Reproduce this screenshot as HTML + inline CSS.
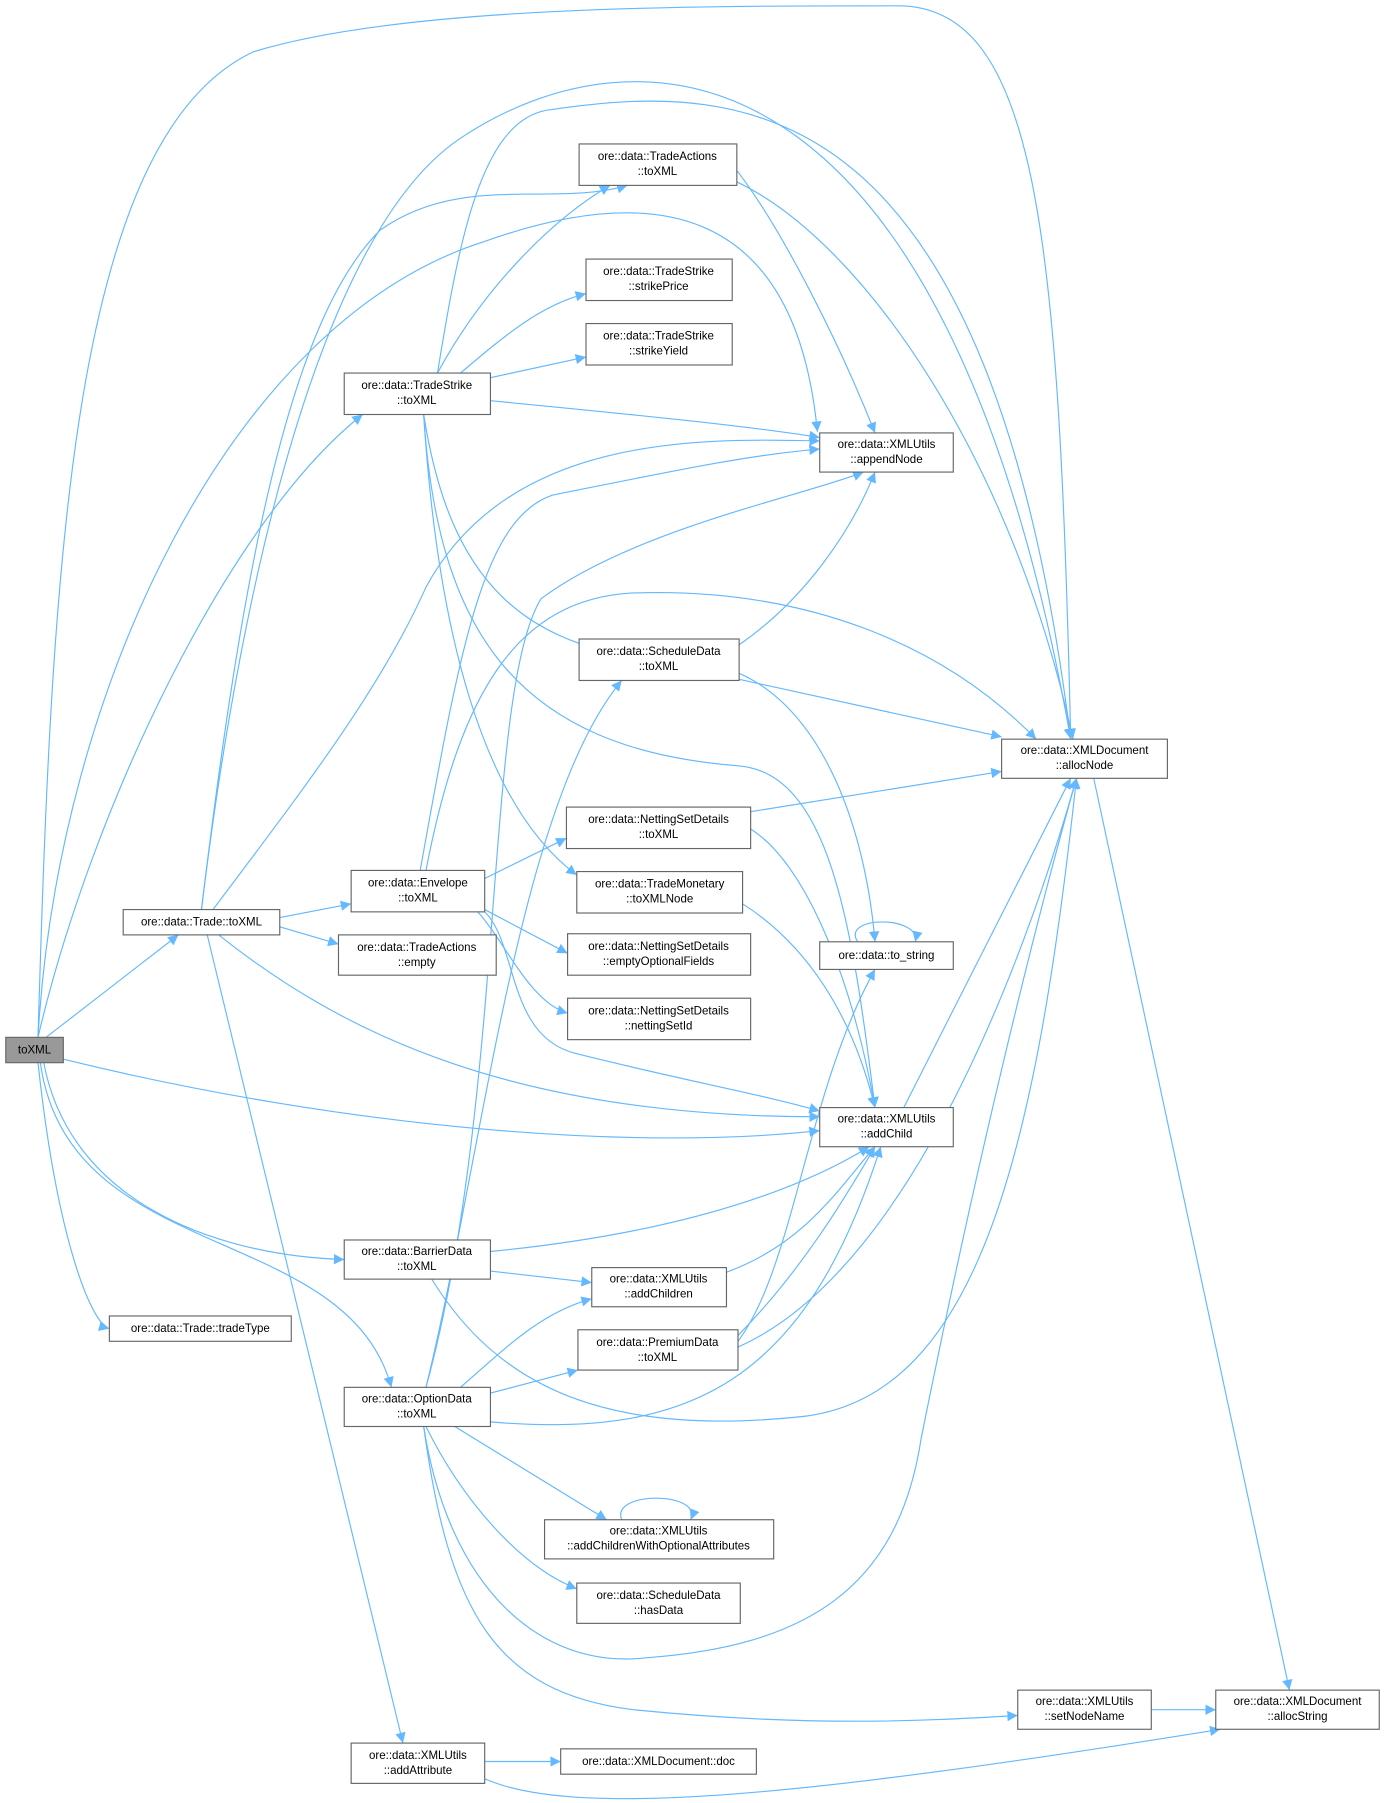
<!DOCTYPE html>
<html><head><meta charset="utf-8"><style>
html,body{margin:0;padding:0;background:#fff;}
svg{display:block;}
text{font-family:"Liberation Sans",sans-serif;font-size:10px;fill:#000;}
.n{fill:#fff;stroke:#666;stroke-width:1;}
.e{fill:none;stroke:#63b8ff;stroke-width:1;}
</style></head><body>
<svg width="1385" height="1803" viewBox="0 0 1203 1566" xmlns="http://www.w3.org/2000/svg">
<defs><marker id="a" viewBox="0 0 10 10" refX="10" refY="5" markerWidth="9" markerHeight="9" markerUnits="userSpaceOnUse" orient="auto"><path d="M0,0 L10,5 L0,10 z" fill="#63b8ff"/></marker></defs>
<g class="e" marker-end="url(#a)">
<path d="M33,901 C45,500 60,120 220,45 C350,5 600,5 780,5 C900,5 920,200 930,642"/>
<path d="M33,901 C50,600 200,280 420,210 C560,160 690,170 710,375"/>
<path d="M33,901 C80,700 200,450 315,360"/>
<path d="M40,901 L155,812"/>
<path d="M55,920 C300,980 550,1000 712,982"/>
<path d="M38,923 C60,1040 180,1090 299,1094"/>
<path d="M35,923 C60,1100 300,1060 340,1205"/>
<path d="M33,923 C50,1080 80,1150 95,1154"/>
<path d="M175,790 C210,500 250,280 330,200 C400,150 480,180 545,161"/>
<path d="M175,790 C210,500 280,200 400,120 C550,20 820,20 930,642"/>
<path d="M185,790 C260,690 330,600 370,510 C440,380 600,380 712,383"/>
<path d="M243,797 L305,785"/>
<path d="M243,805 L294,820"/>
<path d="M190,812 C300,900 450,970 712,970"/>
<path d="M180,812 L350,1514"/>
<path d="M380,324 C420,250 480,190 530,161"/>
<path d="M400,324 C440,290 470,265 509,255"/>
<path d="M426,328 L509,310"/>
<path d="M426,348 C550,360 650,370 712,380"/>
<path d="M380,324 C400,200 420,100 480,95 C650,70 860,80 930,642"/>
<path d="M368,360 C390,500 450,570 600,575 C700,580 750,700 760,818"/>
<path d="M368,360 C380,550 450,650 640,665 C720,670 740,800 760,962"/>
<path d="M368,360 C380,550 420,700 501,760"/>
<path d="M365,756 C400,560 420,450 480,430 C580,410 650,395 712,390"/>
<path d="M370,756 C400,600 450,520 550,515 C700,510 820,560 900,642"/>
<path d="M421,763 L492,728"/>
<path d="M421,790 L493,828"/>
<path d="M415,792 C440,820 460,870 493,880"/>
<path d="M421,792 C450,820 440,900 500,915 C600,940 660,950 712,965"/>
<path d="M640,148 C680,200 730,300 760,376"/>
<path d="M640,158 C750,210 880,400 932,642"/>
<path d="M642,560 C700,520 740,460 760,410"/>
<path d="M642,590 L870,640"/>
<path d="M652,705 L870,670"/>
<path d="M652,720 C700,750 740,850 760,962"/>
<path d="M645,785 C700,820 740,880 760,962"/>
<path d="M745,818 C730,795 800,795 795,818"/>
<path d="M785,962 L930,676"/>
<path d="M950,676 L1120,1468"/>
<path d="M426,1087 C600,1070 700,1030 755,996"/>
<path d="M426,1104 L514,1114"/>
<path d="M375,1111 C430,1200 520,1250 700,1230 C850,1210 900,1000 935,676"/>
<path d="M631,1105 C700,1080 730,1030 760,996"/>
<path d="M641,1160 C700,1100 740,1030 760,996"/>
<path d="M641,1165 C690,1100 700,950 760,842"/>
<path d="M641,1170 C800,1100 900,800 935,676"/>
<path d="M370,1205 C420,1000 450,700 540,591"/>
<path d="M370,1205 C440,950 420,600 470,520 C550,460 700,430 750,410"/>
<path d="M400,1205 C440,1170 470,1140 514,1128"/>
<path d="M426,1210 L502,1190"/>
<path d="M426,1235 C600,1250 700,1200 765,996"/>
<path d="M395,1239 L527,1320"/>
<path d="M370,1239 C400,1300 450,1360 501,1380"/>
<path d="M368,1239 C390,1380 470,1450 560,1440 C700,1430 780,1380 800,1250 C850,1000 900,800 935,676"/>
<path d="M368,1239 C390,1400 430,1470 550,1485 C700,1500 800,1495 884,1490"/>
<path d="M540,1320 C530,1295 610,1295 600,1320"/>
<path d="M1000,1485 L1056,1485"/>
<path d="M421,1530 L487,1530"/>
<path d="M421,1545 C500,1580 700,1560 1060,1502"/>
</g>
<g>
<rect x="5" y="901" width="50" height="22" fill="#999" stroke="#666"/><text x="30" y="915" text-anchor="middle">toXML</text>
<rect class="n" x="107" y="790" width="136" height="22"/><text x="175" y="804" text-anchor="middle">ore::data::Trade::toXML</text>
<rect class="n" x="95" y="1143" width="158" height="22"/><text x="174" y="1157" text-anchor="middle">ore::data::Trade::tradeType</text>
<rect class="n" x="503" y="125" width="137" height="36"/><text x="571" y="139" text-anchor="middle">ore::data::TradeActions</text><text x="571" y="152" text-anchor="middle">::toXML</text>
<rect class="n" x="509" y="225" width="127" height="36"/><text x="572" y="239" text-anchor="middle">ore::data::TradeStrike</text><text x="572" y="252" text-anchor="middle">::strikePrice</text>
<rect class="n" x="509" y="281" width="127" height="36"/><text x="572" y="295" text-anchor="middle">ore::data::TradeStrike</text><text x="572" y="308" text-anchor="middle">::strikeYield</text>
<rect class="n" x="299" y="324" width="127" height="36"/><text x="362" y="338" text-anchor="middle">ore::data::TradeStrike</text><text x="362" y="351" text-anchor="middle">::toXML</text>
<rect class="n" x="712" y="376" width="116" height="34"/><text x="770" y="389" text-anchor="middle">ore::data::XMLUtils</text><text x="770" y="402" text-anchor="middle">::appendNode</text>
<rect class="n" x="503" y="555" width="139" height="36"/><text x="572" y="569" text-anchor="middle">ore::data::ScheduleData</text><text x="572" y="582" text-anchor="middle">::toXML</text>
<rect class="n" x="870" y="642" width="144" height="34"/><text x="942" y="655" text-anchor="middle">ore::data::XMLDocument</text><text x="942" y="668" text-anchor="middle">::allocNode</text>
<rect class="n" x="492" y="701" width="160" height="36"/><text x="572" y="715" text-anchor="middle">ore::data::NettingSetDetails</text><text x="572" y="728" text-anchor="middle">::toXML</text>
<rect class="n" x="501" y="757" width="144" height="36"/><text x="573" y="771" text-anchor="middle">ore::data::TradeMonetary</text><text x="573" y="784" text-anchor="middle">::toXMLNode</text>
<rect class="n" x="305" y="756" width="116" height="36"/><text x="363" y="770" text-anchor="middle">ore::data::Envelope</text><text x="363" y="783" text-anchor="middle">::toXML</text>
<rect class="n" x="294" y="812" width="137" height="35"/><text x="362" y="826" text-anchor="middle">ore::data::TradeActions</text><text x="362" y="839" text-anchor="middle">::empty</text>
<rect class="n" x="493" y="811" width="159" height="36"/><text x="572" y="825" text-anchor="middle">ore::data::NettingSetDetails</text><text x="572" y="838" text-anchor="middle">::emptyOptionalFields</text>
<rect class="n" x="712" y="818" width="116" height="24"/><text x="770" y="833" text-anchor="middle">ore::data::to_string</text>
<rect class="n" x="493" y="867" width="159" height="36"/><text x="572" y="881" text-anchor="middle">ore::data::NettingSetDetails</text><text x="572" y="894" text-anchor="middle">::nettingSetId</text>
<rect class="n" x="712" y="962" width="116" height="34"/><text x="770" y="975" text-anchor="middle">ore::data::XMLUtils</text><text x="770" y="988" text-anchor="middle">::addChild</text>
<rect class="n" x="299" y="1077" width="127" height="34"/><text x="362" y="1090" text-anchor="middle">ore::data::BarrierData</text><text x="362" y="1103" text-anchor="middle">::toXML</text>
<rect class="n" x="514" y="1101" width="117" height="34"/><text x="572" y="1114" text-anchor="middle">ore::data::XMLUtils</text><text x="572" y="1127" text-anchor="middle">::addChildren</text>
<rect class="n" x="502" y="1155" width="139" height="35"/><text x="571" y="1169" text-anchor="middle">ore::data::PremiumData</text><text x="571" y="1182" text-anchor="middle">::toXML</text>
<rect class="n" x="299" y="1205" width="127" height="34"/><text x="362" y="1218" text-anchor="middle">ore::data::OptionData</text><text x="362" y="1231" text-anchor="middle">::toXML</text>
<rect class="n" x="473" y="1320" width="199" height="34"/><text x="572" y="1333" text-anchor="middle">ore::data::XMLUtils</text><text x="572" y="1346" text-anchor="middle">::addChildrenWithOptionalAttributes</text>
<rect class="n" x="501" y="1375" width="142" height="35"/><text x="572" y="1389" text-anchor="middle">ore::data::ScheduleData</text><text x="572" y="1402" text-anchor="middle">::hasData</text>
<rect class="n" x="884" y="1468" width="116" height="34"/><text x="942" y="1481" text-anchor="middle">ore::data::XMLUtils</text><text x="942" y="1494" text-anchor="middle">::setNodeName</text>
<rect class="n" x="1056" y="1468" width="142" height="34"/><text x="1127" y="1481" text-anchor="middle">ore::data::XMLDocument</text><text x="1127" y="1494" text-anchor="middle">::allocString</text>
<rect class="n" x="305" y="1514" width="116" height="35"/><text x="363" y="1528" text-anchor="middle">ore::data::XMLUtils</text><text x="363" y="1541" text-anchor="middle">::addAttribute</text>
<rect class="n" x="487" y="1519" width="170" height="22"/><text x="572" y="1533" text-anchor="middle">ore::data::XMLDocument::doc</text>
</g>
</svg>
</body></html>
